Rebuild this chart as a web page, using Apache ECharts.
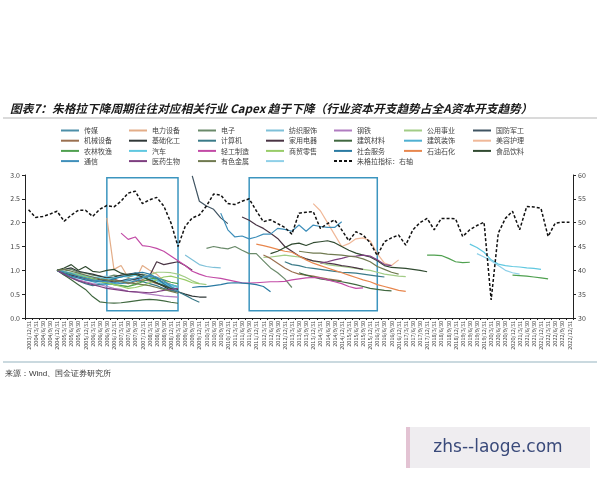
<!DOCTYPE html>
<html>
<head>
<meta charset="utf-8">
<script src="https://cdn.jsdelivr.net/npm/echarts@6/dist/echarts.min.js"></script>
<style>
  html, body { margin: 0; padding: 0; background: #fff; }
  #chart { width: 600px; height: 480px; }
</style>
</head>
<body>
<div id="chart"></div>
<script>
// quarterly report dates, 2003Q4 .. 2022Q4
const cats = [
  '2003/12/31',
  '2004/3/31','2004/6/30','2004/9/30','2004/12/31',
  '2005/3/31','2005/6/30','2005/9/30','2005/12/31',
  '2006/3/31','2006/6/30','2006/9/30','2006/12/31',
  '2007/3/31','2007/6/30','2007/9/30','2007/12/31',
  '2008/3/31','2008/6/30','2008/9/30','2008/12/31',
  '2009/3/31','2009/6/30','2009/9/30','2009/12/31',
  '2010/3/31','2010/6/30','2010/9/30','2010/12/31',
  '2011/3/31','2011/6/30','2011/9/30','2011/12/31',
  '2012/3/31','2012/6/30','2012/9/30','2012/12/31',
  '2013/3/31','2013/6/30','2013/9/30','2013/12/31',
  '2014/3/31','2014/6/30','2014/9/30','2014/12/31',
  '2015/3/31','2015/6/30','2015/9/30','2015/12/31',
  '2016/3/31','2016/6/30','2016/9/30','2016/12/31',
  '2017/3/31','2017/6/30','2017/9/30','2017/12/31',
  '2018/3/31','2018/6/30','2018/9/30','2018/12/31',
  '2019/3/31','2019/6/30','2019/9/30','2019/12/31',
  '2020/3/31','2020/6/30','2020/9/30','2020/12/31',
  '2021/3/31','2021/6/30','2021/9/30','2021/12/31',
  '2022/3/31','2022/6/30','2022/9/30','2022/12/31'
];

// industry capex share series: [start index, values] segments
const chuanmei   = [[4, [1.00,0.95,0.92,0.88,0.85,0.82,0.80,0.78,0.80,0.76,0.78,0.82,0.85,0.88,0.80,0.72,0.65,0.60]]];
const dianli     = [[11, [2.10,1.02,1.10,0.85,0.78,1.10,1.00,0.92,0.78,0.70,0.66]]];
const dianzi     = [[4, [1.00,0.98,1.02,0.96,0.94,0.90,0.88,0.86,0.90,0.88,0.86,0.90,0.92,0.88,0.82,0.75,0.70,0.65]],
                    [25, [1.46,1.50,1.47,1.45,1.50,1.42,1.35,1.35,1.20,1.05,0.95,0.82,0.64]]];
const fangzhi    = [[4, [1.00,0.96,0.94,0.90,0.86,0.84,0.86,0.88,0.84,0.86,0.90,0.92,0.86,0.80,0.74,0.70,0.66]],
                    [22, [1.32,1.22,1.12,1.08,1.06,1.05]]];
const gangtie    = [[4, [1.00,0.92,0.86,0.80,0.76,0.72,0.70,0.66,0.62,0.60,0.56,0.55,0.52,0.50,0.48,0.46,0.45,0.44]]];
const gongyong   = [[4, [1.00,0.97,0.93,0.88,0.84,0.80,0.76,0.72,0.70,0.68,0.66,0.72,0.80,0.90,0.96,0.96,0.95,0.92,0.86,0.78,0.72,0.70]],
                    [33, [1.27,1.28,1.30,1.32,1.30,1.28,1.24,1.20,1.16,1.12,1.10,1.08,1.06,1.04,1.02,1.00,0.96,0.92,0.90,0.88,0.87]]];
const guofang    = [[23, [2.98,2.45,2.35,2.28,2.10,1.98]]];
const jixie      = [[4, [1.00,0.95,0.90,0.86,0.82,0.78,0.80,0.84,0.82,0.76,0.72,0.76,0.80,0.78,0.72,0.68,0.62,0.58]],
                    [33, [1.32,1.25,1.15,1.05,0.97,0.92,0.90,0.88,0.85,0.82,0.80,0.78]]];
const jichu      = [[4, [1.00,1.02,1.05,0.98,0.95,0.92,0.88,0.84,0.86,0.90,0.92,0.94,0.90,0.82,0.74,0.66,0.58,0.55,0.50,0.46,0.44,0.44]]];
const jisuanji   = [[4, [1.00,0.90,0.85,0.78,0.72,0.68,0.70,0.72,0.74,0.78,0.82,0.80,0.76,0.72,0.68,0.62,0.58,0.55,0.48,0.40,0.33]],
                    [36, [1.18,1.12,1.10,1.06,1.04,1.02,1.00,0.98,0.96,0.95,0.94,0.92,0.90,0.88,0.86]]];
const jiadian    = [[4, [1.00,0.95,0.90,0.86,0.84,0.82,0.80,0.78,0.76,0.78,0.80,0.82,0.85,0.88,1.18,1.12,1.15,1.18,1.10,1.00]],
                    [30, [2.12,2.05,1.95,1.88,1.78,1.67,1.50,1.40,1.30,1.24,1.20,1.18,1.15,1.13,1.10,1.08,1.05,1.02]]];
const jiancai    = [[4, [1.00,0.90,0.80,0.70,0.60,0.45,0.34,0.32,0.31,0.32,0.34,0.36,0.38,0.39,0.38,0.36,0.33,0.31]],
                    [38, [0.95,0.90,0.86,0.82,0.80,0.78,0.76,0.73,0.70,0.66,0.62,0.60,0.58,0.57]]];
const jianzhuang = [[4, [1.00,0.93,0.87,0.84,0.80,0.76,0.72,0.70,0.72,0.76,0.80,0.84,0.88,0.86,0.80,0.74,0.70,0.66]]];
const meirong    = [[40, [2.40,2.25,2.00,1.75,1.50,1.56,1.66,1.68,1.62,1.35,1.15,1.10,1.22]]];
const nonglin    = [[4, [1.00,0.96,0.92,0.90,0.86,0.82,0.78,0.74,0.70,0.68,0.66,0.70,0.76,0.82,0.84,0.80,0.75,0.72]],
                    [56, [1.32,1.32,1.31,1.25,1.18,1.16,1.17]],
                    [68, [0.90,0.89,0.88,0.86,0.84,0.82]]];
const qiche      = [[4, [1.00,0.98,0.95,0.92,0.88,0.86,0.84,0.82,0.84,0.86,0.88,0.90,0.86,0.82,0.78,0.72,0.68,0.64]],
                    [62, [1.55,1.48,1.38,1.22,1.13,1.10,1.08,1.07,1.05,1.04,1.02]]];
const qinggong   = [[13, [1.78,1.65,1.70,1.52,1.50,1.46,1.40,1.30,1.20,1.10,0.98,0.92,0.87,0.85,0.83,0.80,0.77,0.74,0.73,0.74,
                          0.75,0.76,0.76,0.77,0.80,0.82,0.84,0.85,0.84,0.80,0.76,0.72,0.66,0.62,0.63]]];
const shangmao   = [[4, [1.00,0.97,0.94,0.90,0.86,0.82,0.78,0.74,0.70,0.66,0.62,0.64,0.68,0.74,0.80,0.86,0.88,0.84,0.80,0.74,0.72]]];
const shehui     = [[4, [1.00,0.94,0.88,0.84,0.80,0.78,0.76,0.78,0.82,0.86,0.90,0.94,0.96,0.92,0.84,0.72,0.62,0.58]],
                    [23, [0.64,0.66,0.66,0.68,0.70,0.73,0.74,0.73,0.72,0.70,0.66,0.55]]];
const shiyou     = [[32, [1.55,1.52,1.48,1.44,1.40,1.38,1.30,1.22,1.15,1.10,1.05,1.00,0.95,0.90,0.85,0.80,0.76,0.70,0.66,0.62,0.58,0.56]]];
const shipin     = [[4, [1.00,1.05,1.12,1.00,1.08,0.98,0.96,1.00,1.02,0.94,0.90,0.92,0.86,0.80,0.74,0.68,0.62,0.60]],
                    [34, [1.35,1.40,1.48,1.55,1.57,1.52,1.58,1.60,1.62,1.58,1.50,1.42,1.36,1.32,1.28,1.20,1.10,1.06,1.05,1.04,1.02,1.00,0.97]]];
const tongxin    = [[4, [1.00,0.97,0.93,0.88,0.84,0.80,0.78,0.76,0.74,0.72,0.74,0.78,0.84,0.90,0.86,0.78,0.66,0.56]],
                    [27, [2.20,1.85,1.70,1.72,1.66,1.70,1.76,1.76,1.88,1.86,1.82,1.95,1.82,1.95,1.92,1.90,1.90,2.02]]];
const yiyao      = [[4, [1.00,0.92,0.84,0.78,0.74,0.70,0.66,0.62,0.60,0.58,0.56,0.55,0.54,0.53,0.55,0.58,0.60,0.62]],
                    [41, [1.15,1.18,1.22,1.25,1.29,1.30,1.32,1.30,1.22,1.12,1.10]]];
const youse      = [[4, [1.00,1.02,0.98,0.94,0.90,0.86,0.82,0.80,0.78,0.76,0.74,0.72,0.70,0.68,0.64,0.60,0.56,0.52]],
                    [38, [1.40,1.38,1.36,1.36,1.34,1.33,1.32,1.30,1.28,1.24,1.18,1.08,1.02,0.96,0.92]]];
const blank      = [[63, [1.35,1.28,1.20,1.10,1.00,0.95,0.92]]];

// Juglar indicator (right axis)
const juglar = [52.7,51.1,51.3,51.8,52.4,50.3,51.6,52.6,52.6,51.3,52.8,53.6,53.3,54.5,56.2,56.6,54.0,54.8,55.3,53.5,
                50.0,45.0,49.2,51.0,51.6,53.5,56.0,55.8,54.0,53.8,54.5,55.0,52.5,50.2,50.6,49.8,49.0,47.6,52.0,52.2,
                52.3,48.8,49.8,50.6,48.5,46.2,48.1,47.4,45.8,43.1,46.0,46.8,47.4,45.3,48.5,50.0,50.9,48.5,50.9,50.9,
                50.8,47.1,48.5,49.4,50.1,33.8,47.8,50.9,52.4,48.5,53.4,53.3,53.0,47.1,49.9,50.1,50.1];

// highlighted down-cycles: [start index, end index]
const boxes = [[11, 21], [31, 49]];
const boxRange = [0.15, 2.94];

const industries = [
  ['传媒', chuanmei, '#4d8fa8'], ['电力设备', dianli, '#e3ad88'], ['电子', dianzi, '#6a8a6a'],
  ['纺织服饰', fangzhi, '#7ec0d8'], ['钢铁', gangtie, '#b07cc0'], ['公用事业', gongyong, '#a2cc86'],
  ['国防军工', guofang, '#405462'], ['机械设备', jixie, '#9a7050'], ['基础化工', jichu, '#303838'],
  ['计算机', jisuanji, '#3a7a88'], ['家用电器', jiadian, '#4a3444'], ['建筑材料', jiancai, '#406840'],
  ['建筑装饰', jianzhuang, '#4fb0d2'], ['美容护理', meirong, '#f0b898'], ['农林牧渔', nonglin, '#4fa04f'],
  ['汽车', qiche, '#60c8e0'], ['轻工制造', qinggong, '#c24aa6'], ['商贸零售', shangmao, '#98cc68'],
  ['社会服务', shehui, '#2a7aa2'], ['石油石化', shiyou, '#e8874e'], ['食品饮料', shipin, '#304a30'],
  ['通信', tongxin, '#3f8fba'], ['医药生物', yiyao, '#7e3f80'], ['有色金属', youse, '#707a50'],
  ['\u3000', blank, '#8fd0e8']
];
const juglarName = '朱格拉指标：右轴';

const legendCols = [
  ['传媒', '机械设备', '农林牧渔', '通信'],
  ['电力设备', '基础化工', '汽车', '医药生物'],
  ['电子', '计算机', '轻工制造', '有色金属'],
  ['纺织服饰', '家用电器', '商贸零售', '\u3000'],
  ['钢铁', '建筑材料', '社会服务', juglarName],
  ['公用事业', '建筑装饰', '石油石化'],
  ['国防军工', '美容护理', '食品饮料']
];
const legendLeft = [60, 128, 197, 265, 333, 403, 472];

function expand(segs) {
  const out = cats.map(() => null);
  segs.forEach(([start, vals]) => vals.forEach((v, k) => { out[start + k] = v; }));
  return out;
}

const font = '"Noto Sans CJK SC", "Noto Sans", sans-serif';

const series = industries.map(([name, segs, color]) => ({
  name: name,
  type: 'line',
  data: expand(segs),
  symbol: 'none',
  connectNulls: false,
  color: color,
  lineStyle: { width: 1.2, color: color },
  emphasis: { disabled: true }
}));

series.push({
  name: juglarName,
  type: 'line',
  yAxisIndex: 1,
  data: juglar,
  symbol: 'none',
  color: '#111',
  lineStyle: { width: 1.5, color: '#111', type: [3, 2] },
  emphasis: { disabled: true },
  z: 5
});

// boxes drawn via markArea on a helper series
series.push({
  name: 'boxes',
  type: 'line',
  data: [],
  markArea: {
    silent: true,
    itemStyle: { color: 'rgba(0,0,0,0)', borderColor: '#3c95bf', borderWidth: 1.5 },
    data: boxes.map(([a, b]) => [
      { xAxis: cats[a], yAxis: boxRange[0] },
      { xAxis: cats[b], yAxis: boxRange[1] }
    ])
  }
});

const legends = legendCols.map((col, k) => ({
  orient: 'vertical',
  left: legendLeft[k],
  top: 127,
  itemWidth: 18,
  itemHeight: 7,
  itemGap: 3.2,
  padding: 0,
  data: col,
  itemStyle: { opacity: 0 },
  textStyle: { fontSize: 7, color: '#444', fontFamily: font }
}));

const chart = echarts.init(document.getElementById('chart'), null, { renderer: 'canvas' });
chart.setOption({
  backgroundColor: '#fff',
  animation: false,
  title: {
    text: '图表7：朱格拉下降周期往往对应相关行业 Capex 趋于下降（行业资本开支趋势占全A资本开支趋势）',
    left: 5,
    top: 98,
    textStyle: { fontSize: 11.7, fontStyle: 'italic', fontWeight: 'bold', color: '#1a1a1a', fontFamily: font }
  },
  legend: legends,
  grid: { left: 25, right: 27, top: 175, bottom: 162 },
  xAxis: {
    type: 'category',
    data: cats,
    boundaryGap: true,
    axisLine: { lineStyle: { color: '#222', width: 1 } },
    axisTick: { show: true, interval: 0, length: 2, lineStyle: { color: '#222' } },
    axisLabel: { interval: 0, rotate: 90, fontSize: 5.5, color: '#444', margin: 3, fontFamily: font },
    splitLine: { show: false }
  },
  yAxis: [{
    type: 'value',
    min: 0, max: 3, interval: 0.5,
    axisLine: { show: true, lineStyle: { color: '#222' } },
    axisTick: { show: true, length: 3, lineStyle: { color: '#222' } },
    axisLabel: { fontSize: 7, color: '#444', margin: 5, formatter: v => v.toFixed(1), fontFamily: font },
    splitLine: { show: false }
  }, {
    type: 'value',
    min: 30, max: 60, interval: 5,
    position: 'right',
    axisLine: { show: true, lineStyle: { color: '#222' } },
    axisTick: { show: true, length: 3, lineStyle: { color: '#222' } },
    axisLabel: { fontSize: 7, color: '#444', margin: 5, fontFamily: font },
    splitLine: { show: false }
  }],
  graphic: [
    { type: 'line', shape: { x1: 3, y1: 118, x2: 597, y2: 118 }, style: { stroke: '#b5b5b5', lineWidth: 1 } },
    { type: 'line', shape: { x1: 3, y1: 362, x2: 597, y2: 362 }, style: { stroke: '#b8ccd4', lineWidth: 1.5 } },
    { type: 'text', left: 5, top: 370, style: { text: '来源：Wind、国金证券研究所', fontSize: 8, fill: '#333', font: '8px ' + font } },
    { type: 'rect', shape: { x: 406, y: 427, width: 184, height: 41 }, style: { fill: '#efedf0' } },
    { type: 'rect', shape: { x: 406, y: 427, width: 4, height: 41 }, style: { fill: '#e3c3d3' } },
    { type: 'text', x: 498, y: 448, style: { text: 'zhs--laoge.com', fill: '#3a4a7a', font: '17px "DejaVu Sans", sans-serif', textAlign: 'center', textVerticalAlign: 'middle' } }
  ],
  series: series
});
</script>
</body>
</html>
